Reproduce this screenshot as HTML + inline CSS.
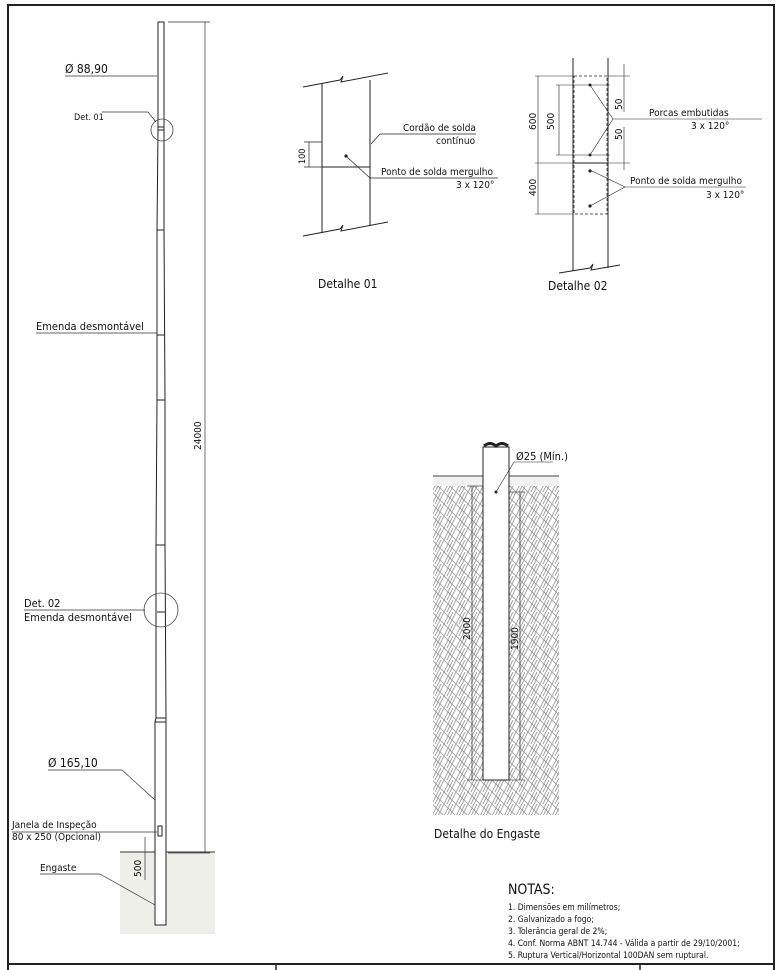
<!DOCTYPE html>
<html><head><meta charset="utf-8"><style>
html,body{margin:0;padding:0;background:#fff}
svg{display:block}
text{font-family:"DejaVu Sans Condensed","Liberation Sans",sans-serif;fill:#111}
</style></head><body>
<svg width="780" height="970" viewBox="0 0 780 970" xmlns="http://www.w3.org/2000/svg">
<defs>
<pattern id="h" width="12" height="12" patternUnits="userSpaceOnUse">
<rect width="12" height="12" fill="#fff"/>
<path d="M0 12 L6 0 M3 12 L9 0 M6 12 L12 0 M0 0 L6 6 M6 6 L12 12" stroke="#a0a0a0" stroke-width="0.9" fill="none"/>
</pattern>
</defs>
<rect x="8" y="5" width="766" height="990" fill="none" stroke="#222" stroke-width="2"/>
<line x1="8" y1="964" x2="774" y2="964" stroke="#222" stroke-width="2"/>
<line x1="276" y1="964" x2="276" y2="970" stroke="#222" stroke-width="1.5"/>
<line x1="640" y1="964" x2="640" y2="970" stroke="#222" stroke-width="1.5"/>

<rect x="120" y="852" width="95" height="82" fill="#efefea"/>
<line x1="120" y1="852" x2="215" y2="852" stroke="#333" stroke-width="1"/>

<g stroke="#222" stroke-width="1" fill="#fff">
<polygon points="158,22 164,22 164,130 158,130"/>
<polygon points="158,130 164,130 164,230 157,230"/>
<polygon points="157,230 164,230 165,400 157,400"/>
<polygon points="157,400 165,400 165,545 156,545"/>
<polygon points="156,545 165,545 166,718 156,718"/>
<polygon points="155,722 166,722 166,925 155,925"/>
<line x1="156" y1="718" x2="155" y2="722"/><line x1="166" y1="718" x2="166" y2="722"/>
<line x1="158" y1="127" x2="164" y2="127"/>
<line x1="157" y1="612" x2="165" y2="612"/>
<line x1="157" y1="335" x2="165" y2="335"/>
<rect x="158" y="826" width="4" height="10"/>
</g>
<circle cx="162" cy="130" r="11" fill="none" stroke="#444" stroke-width="0.8"/>
<circle cx="161" cy="610" r="17" fill="none" stroke="#444" stroke-width="0.8"/>

<g stroke="#333" stroke-width="0.7" fill="none">
<line x1="168" y1="22" x2="210" y2="22"/>
<line x1="205" y1="22" x2="205" y2="853"/>
<line x1="168" y1="853" x2="210" y2="853"/>
<line x1="65" y1="76" x2="157" y2="76"/>
<line x1="36" y1="333" x2="157" y2="333"/>
<line x1="102" y1="112" x2="148" y2="112"/><line x1="148" y1="112" x2="156" y2="122"/>
<line x1="24" y1="610" x2="145" y2="610"/>
<line x1="48" y1="770" x2="122" y2="770"/><line x1="122" y1="770" x2="155" y2="800"/>
<line x1="12" y1="832" x2="157" y2="832"/>
<line x1="40" y1="874" x2="100" y2="874"/><line x1="100" y1="874" x2="155" y2="905"/>
<line x1="145" y1="837" x2="145" y2="880"/>
</g>
<text x="74" y="120" font-size="9">Det. 01</text>
<text x="65" y="73" font-size="12">Ø 88,90</text>
<text x="36" y="330" font-size="11">Emenda desmontável</text>
<text x="24" y="607" font-size="11">Det. 02</text>
<text x="24" y="621" font-size="11">Emenda desmontável</text>
<text x="48" y="767" font-size="12">Ø 165,10</text>
<text x="12" y="828" font-size="10">Janela de Inspeção</text>
<text x="12" y="840" font-size="10">80 x 250 (Opcional)</text>
<text x="40" y="871" font-size="10">Engaste</text>
<text font-size="10" transform="translate(141,877) rotate(-90)">500</text>
<text font-size="10" transform="translate(201,450) rotate(-90)">24000</text>

<g stroke="#222" stroke-width="1" fill="none">
<path d="M303 87 L340 80 L343 76 L341 82 L388 73"/>
<path d="M303 236 L340 229 L343 225 L341 231 L388 222"/>
<line x1="322" y1="83" x2="322" y2="233"/>
<line x1="370" y1="80" x2="370" y2="226"/>
<line x1="322" y1="167" x2="370" y2="167"/>
<g stroke-width="0.7">
<line x1="304" y1="142" x2="322" y2="142"/><line x1="304" y1="167" x2="322" y2="167"/>
<line x1="309" y1="142" x2="309" y2="167"/>
<line x1="370" y1="167" x2="370" y2="178"/>
<line x1="347" y1="157" x2="370" y2="178"/><line x1="370" y1="178" x2="498" y2="178"/>
<line x1="371" y1="144" x2="380" y2="134"/><line x1="380" y1="134" x2="476" y2="134"/>
</g>
</g>
<circle cx="346" cy="156" r="1.6" fill="#222"/>
<text font-size="9" transform="translate(305,164) rotate(-90)">100</text>
<text x="403" y="131" font-size="10">Cordão de solda</text>
<text x="436" y="144" font-size="10">contínuo</text>
<text x="381" y="175" font-size="10">Ponto de solda mergulho</text>
<text x="456" y="188" font-size="10">3 x 120°</text>
<text x="318" y="288" font-size="12">Detalhe 01</text>

<g stroke="#222" stroke-width="1" fill="none">
<line x1="573" y1="58" x2="573" y2="271"/>
<line x1="608" y1="58" x2="608" y2="268"/>
<path d="M559 273 L590 268 L593 264 L591 270 L620 265"/>
<line x1="573" y1="163" x2="608" y2="163"/>
<rect x="574" y="76" width="33" height="138" stroke-dasharray="3,2" stroke-width="0.7"/>
<g stroke-width="0.6">
<line x1="535" y1="76" x2="573" y2="76"/><line x1="535" y1="163" x2="573" y2="163"/><line x1="535" y1="214" x2="573" y2="214"/>
<line x1="538" y1="76" x2="538" y2="163"/><line x1="538" y1="163" x2="538" y2="214"/>
<line x1="556" y1="85" x2="610" y2="85"/><line x1="556" y1="155" x2="610" y2="155"/>
<line x1="559" y1="85" x2="559" y2="155"/>
<line x1="608" y1="76" x2="630" y2="76"/><line x1="608" y1="163" x2="630" y2="163"/>
<line x1="624" y1="64" x2="624" y2="112"/><line x1="624" y1="127" x2="624" y2="170"/>
<line x1="590" y1="85" x2="613" y2="119"/><line x1="590" y1="155" x2="613" y2="119"/>
<line x1="613" y1="119" x2="762" y2="119"/>
<line x1="590" y1="170" x2="625" y2="187"/><line x1="590" y1="206" x2="625" y2="187"/>
<line x1="625" y1="187" x2="746" y2="187"/>
</g>
</g>
<circle cx="590" cy="85" r="1.5" fill="#222"/><circle cx="590" cy="155" r="1.5" fill="#222"/>
<circle cx="590" cy="171" r="1.6" fill="#222"/><circle cx="590" cy="206" r="1.6" fill="#222"/>
<text font-size="10" transform="translate(536,130) rotate(-90)">600</text>
<text font-size="10" transform="translate(554,130) rotate(-90)">500</text>
<text font-size="10" transform="translate(622,110) rotate(-90)">50</text>
<text font-size="10" transform="translate(622,140) rotate(-90)">50</text>
<text font-size="10" transform="translate(536,196) rotate(-90)">400</text>
<text x="649" y="116" font-size="10">Porcas embutidas</text>
<text x="691" y="129" font-size="10">3 x 120°</text>
<text x="630" y="184" font-size="10">Ponto de solda mergulho</text>
<text x="706" y="198" font-size="10">3 x 120°</text>
<text x="548" y="290" font-size="12">Detalhe 02</text>

<rect x="433" y="478" width="126" height="337" fill="url(#h)"/>
<rect x="433" y="476" width="126" height="10" fill="#f2f2f2"/>
<line x1="433" y1="476" x2="559" y2="476" stroke="#444" stroke-width="1"/>
<g stroke="#222" stroke-width="1" fill="none">
<rect x="483" y="447" width="26" height="333" fill="#fff"/>
<path d="M484 446 Q490 441 496 446 Q502 441 508 446" stroke-width="3"/>
<g stroke-width="0.6">
<line x1="472" y1="486" x2="472" y2="780"/><line x1="467" y1="486" x2="483" y2="486"/>
<line x1="520" y1="492" x2="520" y2="780"/><line x1="509" y1="492" x2="525" y2="492"/>
<line x1="467" y1="780" x2="525" y2="780"/>
<line x1="496" y1="492" x2="514" y2="462"/><line x1="514" y1="462" x2="553" y2="462"/>
</g>
</g>
<circle cx="496" cy="492" r="1.5" fill="#222"/>
<text x="516" y="460" font-size="11">Ø25 (Mín.)</text>
<text font-size="10" transform="translate(470,640) rotate(-90)">2000</text>
<text font-size="10" transform="translate(518,650) rotate(-90)">1900</text>
<text x="434" y="838" font-size="12">Detalhe do Engaste</text>

<text x="508" y="894" font-size="14">NOTAS:</text>
<text x="508" y="910" font-size="8.5">1. Dimensões em milímetros;</text>
<text x="508" y="922" font-size="8.5">2. Galvanizado a fogo;</text>
<text x="508" y="934" font-size="8.5">3. Tolerância geral de 2%;</text>
<text x="508" y="946" font-size="8.5">4. Conf. Norma ABNT 14.744 - Válida a partir de 29/10/2001;</text>
<text x="508" y="958" font-size="8.5">5. Ruptura Vertical/Horizontal 100DAN sem ruptural.</text>
</svg>
</body></html>
